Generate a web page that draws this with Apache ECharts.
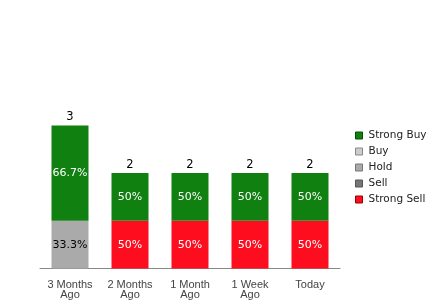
<!DOCTYPE html>
<html>
<head>
<meta charset="utf-8">
<script src="https://cdn.jsdelivr.net/npm/echarts@6/dist/echarts.min.js"></script>
<style>
  html, body { margin: 0; padding: 0; background: #fff; }
  #chart { width: 440px; height: 300px; }
</style>
</head>
<body>
<div id="chart"></div>
<script>
const categories = ['3 Months\nAgo', '2 Months\nAgo', '1 Month\nAgo', '1 Week\nAgo', 'Today'];
const strongBuy = [2, 1, 1, 1, 1];
const buy = [0, 0, 0, 0, 0];
const hold = [1, 0, 0, 0, 0];
const sell = [0, 0, 0, 0, 0];
const strongSell = [0, 1, 1, 1, 1];

const totals = categories.map((c, i) => strongBuy[i] + buy[i] + hold[i] + sell[i] + strongSell[i]);

function pct(p) {
  if (!p.value) return '';
  let v = (p.value / totals[p.dataIndex] * 100).toFixed(1);
  if (v.endsWith('.0')) v = v.slice(0, -2);
  return v + '%';
}

function barSeries(name, data, color, labelColor) {
  return {
    name: name,
    type: 'bar',
    stack: 'all',
    barWidth: 37,
    data: data,
    itemStyle: { color: color },
    label: {
      show: true,
      position: 'inside',
      formatter: pct,
      color: labelColor,
      fontFamily: 'DejaVu Sans',
      fontSize: 11
    },
    emphasis: { disabled: true }
  };
}

const chart = echarts.init(document.getElementById('chart'));
const option = {
  animation: false,
  grid: { left: 40, right: 100, top: 30, bottom: 30 },
  legend: {
    orient: 'vertical',
    left: 350,
    top: 125,
    itemWidth: 7,
    itemHeight: 7,
    itemGap: 5,
    icon: 'rect',
    selectedMode: false,
    textStyle: { fontFamily: 'DejaVu Sans', fontSize: 10.5, color: '#222', padding: [0, 0, 0, 1] },
    data: [
      { name: 'Strong Buy', itemStyle: { borderColor: '#0a4a0a', borderWidth: 1 } },
      { name: 'Buy', itemStyle: { borderColor: '#888', borderWidth: 1 } },
      { name: 'Hold', itemStyle: { borderColor: '#777', borderWidth: 1 } },
      { name: 'Sell', itemStyle: { borderColor: '#555', borderWidth: 1 } },
      { name: 'Strong Sell', itemStyle: { borderColor: '#900', borderWidth: 1 } }
    ]
  },
  xAxis: {
    type: 'category',
    data: categories,
    axisTick: { show: false },
    axisLine: { lineStyle: { color: '#888', width: 1 } },
    axisLabel: {
      color: '#444',
      fontFamily: 'Liberation Sans',
      fontSize: 11,
      lineHeight: 10,
      margin: 11,
      interval: 0
    }
  },
  yAxis: {
    type: 'value',
    min: 0,
    max: 5,
    show: false,
    splitLine: { show: false }
  },
  series: [
    barSeries('Strong Sell', strongSell, '#fe0d1f', '#fff'),
    barSeries('Sell', sell, '#777777', '#fff'),
    barSeries('Hold', hold, '#aaaaaa', '#000'),
    barSeries('Buy', buy, '#cccccc', '#000'),
    barSeries('Strong Buy', strongBuy, '#108010', '#fff'),
    {
      name: 'total',
      type: 'bar',
      stack: 'all',
      barWidth: 37,
      data: categories.map(() => 0),
      itemStyle: { color: 'transparent' },
      label: {
        show: true,
        position: 'top',
        distance: 2,
        formatter: p => String(totals[p.dataIndex]),
        color: '#000',
        fontFamily: 'DejaVu Sans',
        fontSize: 11.5
      },
      emphasis: { disabled: true }
    }
  ]
};
chart.setOption(option);
</script>
</body>
</html>
